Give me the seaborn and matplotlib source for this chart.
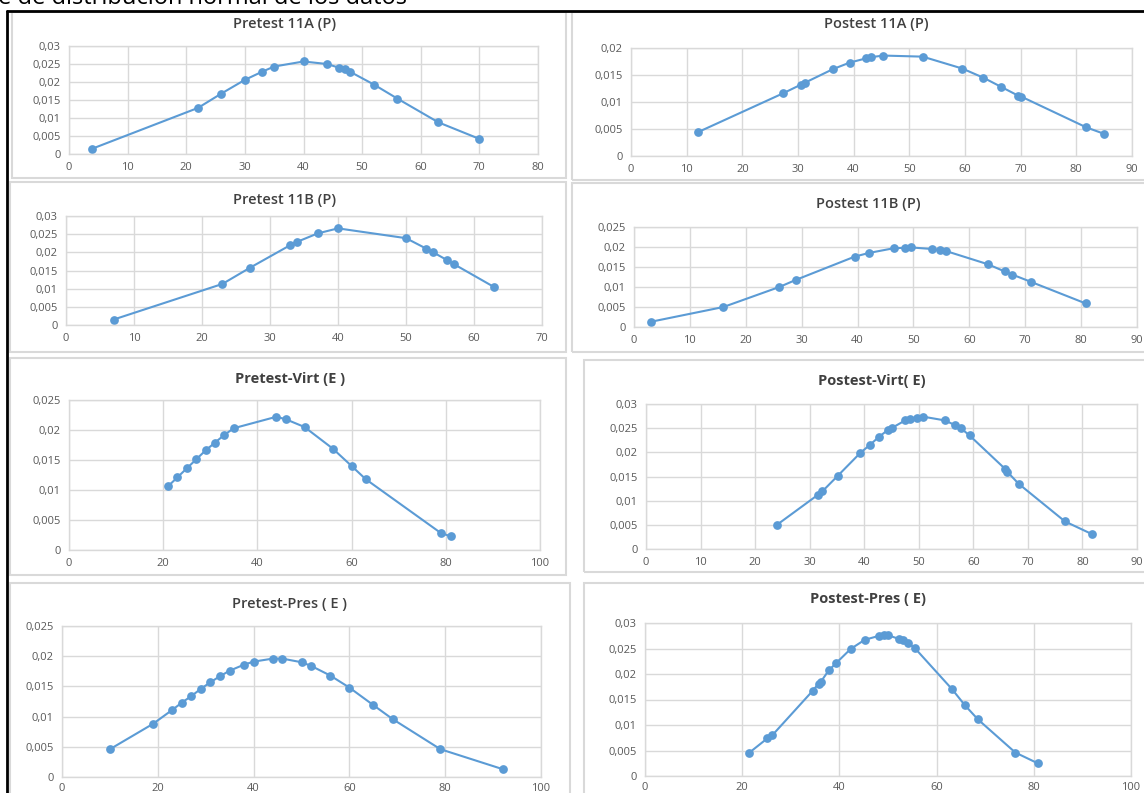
import matplotlib
matplotlib.use("Agg")
import matplotlib.pyplot as plt
from matplotlib.patches import Rectangle
from matplotlib.lines import Line2D
from matplotlib.ticker import FuncFormatter, MultipleLocator
import seaborn as sns

# datos
pre11a_x = [4, 22, 26, 30, 33, 35, 40, 44, 46, 47, 48, 52, 56, 63, 70]
pre11a_y = [0.0015, 0.0128, 0.0168, 0.0206, 0.0229, 0.0243, 0.0257, 0.025, 0.024, 0.0235, 0.0228, 0.0193, 0.0154, 0.0088, 0.0042]

pos11a_x = [12, 27.3, 30.5, 31.3, 36.3, 39.3, 42.3, 43.1, 45.3, 52.4, 59.5, 63.3, 66.5, 69.5, 70.1, 81.8, 85]
pos11a_y = [0.0044, 0.0116, 0.0132, 0.0136, 0.0161, 0.0173, 0.0181, 0.0183, 0.0186, 0.0184, 0.0162, 0.0145, 0.0128, 0.0112, 0.011, 0.0053, 0.0041]

pre11b_x = [7, 23, 27, 33, 34, 37, 40, 50, 53, 54, 56, 57, 63]
pre11b_y = [0.0015, 0.0113, 0.0157, 0.022, 0.0229, 0.0252, 0.0266, 0.0239, 0.021, 0.02, 0.0179, 0.0168, 0.0104]

pos11b_x = [3, 16, 26, 29, 39.5, 42, 46.5, 48.5, 49.5, 53.3, 54.8, 55.8, 63.3, 66.3, 67.7, 71, 80.8]
pos11b_y = [0.0013, 0.005, 0.01, 0.0118, 0.0176, 0.0185, 0.0197, 0.0198, 0.0199, 0.0195, 0.0192, 0.019, 0.0157, 0.0139, 0.0131, 0.0113, 0.0059]

previrt_x = [21, 23, 25, 27, 29, 31, 33, 35, 44, 46, 50, 56, 60, 63, 79, 81]
previrt_y = [0.0106, 0.0121, 0.0136, 0.0151, 0.0166, 0.0179, 0.0192, 0.0203, 0.0222, 0.0218, 0.0205, 0.0169, 0.014, 0.0118, 0.0028, 0.0023]

posvirt_x = [24, 31.5, 32.3, 35.2, 39.3, 41, 42.7, 44.3, 45, 47.5, 48.3, 49.7, 50.7, 54.8, 56.7, 57.7, 59.3, 65.8, 66.2, 68.3, 76.8, 81.7]
posvirt_y = [0.005, 0.0112, 0.0119, 0.0152, 0.0199, 0.0215, 0.0232, 0.0246, 0.025, 0.0266, 0.0269, 0.0272, 0.0274, 0.0266, 0.0256, 0.025, 0.0235, 0.0166, 0.016, 0.0135, 0.0057, 0.0031]

prepres_x = [10, 19, 23, 25, 27, 29, 31, 33, 35, 38, 40, 44, 46, 50, 52, 56, 60, 65, 69, 79, 92]
prepres_y = [0.0046, 0.0088, 0.0111, 0.0123, 0.0134, 0.0146, 0.0157, 0.0167, 0.0176, 0.0186, 0.0191, 0.0196, 0.0196, 0.019, 0.0184, 0.0168, 0.0148, 0.0119, 0.0096, 0.0046, 0.0013]

pospres_x = [21.5, 25.2, 26.2, 34.5, 35.7, 36.2, 37.8, 39.4, 42.3, 45.2, 48.2, 49.2, 50, 52.2, 53, 54.2, 55.5, 63.2, 65.8, 68.5, 76.2, 80.8]
pospres_y = [0.0046, 0.0074, 0.008, 0.0167, 0.0181, 0.0185, 0.0207, 0.0222, 0.0249, 0.0267, 0.0275, 0.0276, 0.0276, 0.0269, 0.0266, 0.026, 0.0251, 0.017, 0.0139, 0.0111, 0.0046, 0.0025]

titulos = ["Pretest 11A (P)", "Postest 11A (P)", "Pretest 11B (P)", "Postest 11B (P)",
           "Pretest-Virt (E )", "Postest-Virt( E)", "Pretest-Pres ( E )", "Postest-Pres ( E)"]
negrita = [False, False, False, False, True, True, False, True]

series = [(pre11a_x, pre11a_y), (pos11a_x, pos11a_y), (pre11b_x, pre11b_y), (pos11b_x, pos11b_y),
          (previrt_x, previrt_y), (posvirt_x, posvirt_y), (prepres_x, prepres_y), (pospres_x, pospres_y)]

# limites de ejes: (xmax, paso x, ymax)
limites = [(80, 10, 0.03), (90, 10, 0.02), (70, 10, 0.03), (90, 10, 0.025),
           (100, 20, 0.025), (90, 10, 0.03), (100, 20, 0.025), (100, 20, 0.03)]

W, H = 1144, 793
# area de trazado en pixeles: izquierda, arriba, derecha, abajo
areas = [(69, 46, 538, 154), (631, 48, 1132, 156), (66, 216, 542, 325), (634, 227, 1137, 327),
         (69, 400, 540, 550), (646, 404, 1137, 549), (62, 626, 541, 777), (645, 623, 1131, 776)]
cajas = [(12, 12, 566, 178), (572, 12, 1150, 180), (10, 182, 566, 352), (572, 183, 1150, 352),
         (10, 358, 566, 575), (584, 360, 1150, 572), (10, 583, 570, 800), (584, 583, 1150, 800)]
pos_titulo = [(285, 24), (876, 24), (285, 200), (868, 204), (290, 379), (872, 381), (290, 604), (868, 599)]

sns.set_theme(style="white")
plt.rcParams['font.family'] = ['Open Sans', 'DejaVu Sans']

azul = "#5B9BD5"
gris = "#D9D9D9"
texto = "#595959"

fig = plt.figure(figsize=(W / 100, H / 100), dpi=100)

coma = FuncFormatter(lambda v, p: ("%g" % round(v, 4)).replace(".", ","))

for i in range(8):
    l, t, r, b = cajas[i]
    fig.patches.append(Rectangle((l / W, 1 - b / H), (r - l) / W, (b - t) / H,
                                 transform=fig.transFigure, fill=False,
                                 edgecolor=gris, linewidth=1.5))

for i in range(8):
    l, t, r, b = areas[i]
    ax = fig.add_axes([l / W, 1 - b / H, (r - l) / W, (b - t) / H])
    x, y = series[i]
    sns.lineplot(x=x, y=y, ax=ax, color=azul, marker="o", markersize=6.3,
                 markeredgewidth=0, linewidth=1.5, sort=False)
    xmax, xstep, ymax = limites[i]
    ax.set_xlim(0, xmax)
    ax.set_ylim(0, ymax)
    ax.xaxis.set_major_locator(MultipleLocator(xstep))
    ax.yaxis.set_major_locator(MultipleLocator(0.005))
    ax.yaxis.set_major_formatter(coma)
    ax.xaxis.set_major_formatter(FuncFormatter(lambda v, p: "%d" % v))
    ax.grid(True, color=gris, linewidth=1)
    for s in ax.spines.values():
        s.set_color(gris)
        s.set_linewidth(1)
    ax.tick_params(length=0, labelsize=8, colors=texto, pad=6)
    if i >= 6:
        ax.tick_params(axis="x", pad=4)
    tx, ty = pos_titulo[i]
    fig.text(tx / W, 1 - ty / H, titulos[i], ha="center", va="center", fontsize=10.5,
             color="#404040", fontweight="bold" if negrita[i] else "semibold")

# marco negro del documento y texto cortado arriba
fig.add_artist(Line2D([7 / W, 1], [1 - 11 / H, 1 - 11 / H], color="black", linewidth=2))
fig.add_artist(Line2D([7 / W, 7 / W], [0, 1 - 11 / H], color="black", linewidth=2))
fig.text(-0.002, 1.003, "e de distribución normal de los datos", ha="left", va="center",
         fontsize=17, color="black")

plt.savefig("out.png", dpi=100)
